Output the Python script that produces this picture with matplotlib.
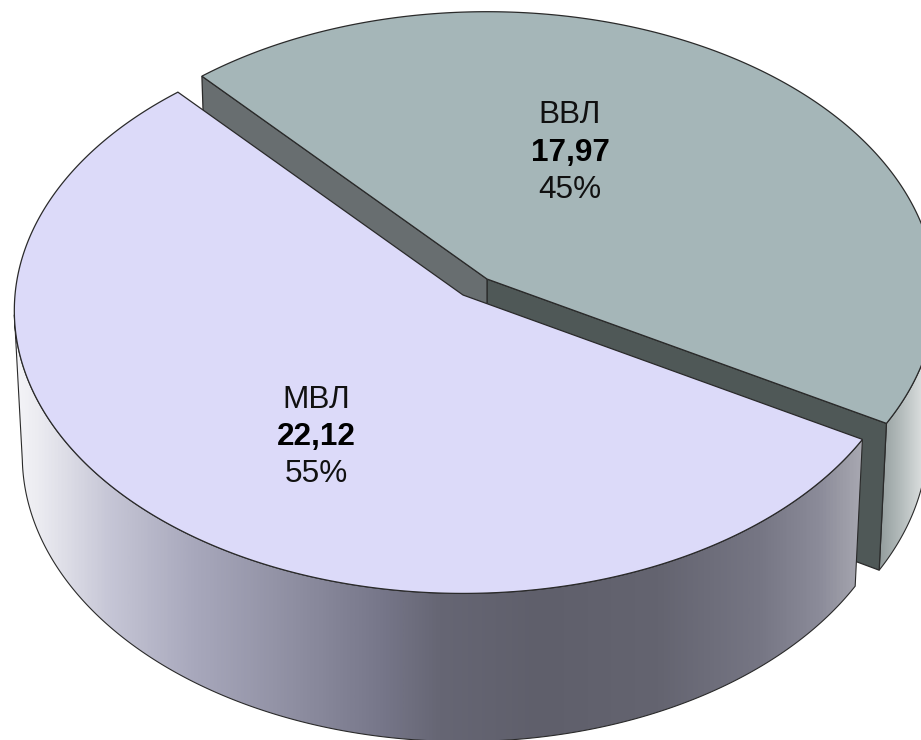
import numpy as np
import matplotlib
matplotlib.use('Agg')
import matplotlib.pyplot as plt
from matplotlib.colors import LinearSegmentedColormap
from matplotlib.patches import Polygon

plt.rcParams['font.family'] = ['Liberation Sans', 'DejaVu Sans']

# data
labels = ['МВЛ', 'ВВЛ']
values = [22.12, 17.97]
percents = ['55%', '45%']

# pie geometry in pixels (perspective view of a thick disk)
CX, CY = 463, 295
RX, RY = 448, 282
K = 0.055      # far side gets smaller
M = 0.018      # bottom of the disk gets smaller
DEPTH = 148
START = 131.5  # where the first slice begins, degrees
OFFSET = [(0, 0), (24, -16)]  # second slice is pulled out

TOP_COLORS = ['#dcdaf9', '#a5b6b8']
EDGE = '#2a2a2a'


def project(theta, r=1.0, z=0.0, off=(0, 0)):
    t = np.radians(theta)
    u = r * np.cos(t)
    v = r * np.sin(t)
    w = 1 + K * v + M * z
    return np.column_stack([CX + off[0] + RX * u / w,
                            CY + off[1] + (DEPTH * z - RY * v) / w])


def sector(a1, a2, off):
    arc = project(np.linspace(a1, a2, 300), off=off)
    apex = project(np.array([0.0]), r=0.0, off=off)
    return np.vstack([apex, arc])


def wall_outer(a1, a2, off):
    th = np.linspace(a1, a2, 300)
    return np.vstack([project(th, off=off), project(th[::-1], z=1.0, off=off)])


def wall_inner(theta, off):
    # flat cut face running from the centre to the rim
    c0 = project(np.array([0.0]), r=0.0, off=off)
    c1 = project(np.array([0.0]), r=0.0, z=1.0, off=off)
    e0 = project(np.array([theta]), off=off)
    e1 = project(np.array([theta]), z=1.0, off=off)
    return np.vstack([c0, e0, e1, c1])


def gradient_patch(ax, pts, stops, x0, x1):
    # horizontal shading clipped to the wall shape
    cmap = LinearSegmentedColormap.from_list('wall', stops)
    patch = Polygon(pts, closed=True, fc='none', ec=EDGE, lw=0.8, zorder=ax.zo + 1)
    ax.add_patch(patch)
    im = ax.imshow(np.linspace(0, 1, 512)[None, :], cmap=cmap, aspect='auto',
                   extent=[x0, x1, 740, 0], zorder=ax.zo, interpolation='bilinear')
    im.set_clip_path(patch)
    ax.zo += 2


fig = plt.figure(figsize=(9.21, 7.40), dpi=100)
ax = fig.add_axes([0, 0, 1, 1])
ax.zo = 1

spans = np.array(values) / np.sum(values) * 360
a_mvl = (START, START + spans[0])
a_vvl = (START + spans[0], START + 360)

mvl_stops = [(0.0, '#f4f4f8'), (0.03, '#eaeaf0'), (0.11, '#c6c6d6'), (0.21, '#a8a8bc'),
             (0.34, '#8c8c9f'), (0.43, '#77778a'), (0.50, '#666674'), (0.62, '#5f5f6b'),
             (0.76, '#646470'), (0.88, '#767684'), (0.95, '#8b8b99'), (1.0, '#a8a8b1')]
vvl_stops = [(0.0, '#8f9999'), (0.5, '#b4bcbc'), (1.0, '#dfe2e2')]

# ВВЛ goes first, the other slice covers part of it
off = OFFSET[1]
gradient_patch(ax, wall_outer(a_vvl[0], a_vvl[0] + 35, off), vvl_stops, 877, 925)
ax.add_patch(Polygon(wall_inner(a_vvl[0], off), closed=True, fc='#4f5857', ec=EDGE, lw=0.9,
                     zorder=ax.zo))
ax.add_patch(Polygon(wall_inner(a_vvl[1], off), closed=True, fc='#686e70', ec=EDGE, lw=0.9,
                     zorder=ax.zo))
ax.zo += 1
ax.add_patch(Polygon(sector(a_vvl[0], a_vvl[1], off), closed=True, fc=TOP_COLORS[1], ec=EDGE,
                     lw=0.9, zorder=ax.zo))
ax.zo += 1

# МВЛ
off = OFFSET[0]
gradient_patch(ax, wall_outer(184, a_mvl[1], off), mvl_stops, 15, 862)
ax.add_patch(Polygon(sector(a_mvl[0], a_mvl[1], off), closed=True, fc=TOP_COLORS[0], ec=EDGE,
                     lw=0.9, zorder=ax.zo))
ax.zo += 1

# labels
label_xy = [(316, 437.5), (570, 153)]
for name, val, pct, (x, y) in zip(labels, values, percents, label_xy):
    ax.text(x, y - 38, name, fontsize=22.7, ha='center', va='center', color='#111111', zorder=ax.zo)
    ax.text(x, y, f'{val:.2f}'.replace('.', ','), fontsize=22.7, fontweight='bold', ha='center',
            va='center', color='black', zorder=ax.zo)
    ax.text(x, y + 37, pct, fontsize=22.7, ha='center', va='center', color='#111111', zorder=ax.zo)

ax.set_xlim(0, 921)
ax.set_ylim(740, 0)
ax.axis('off')
fig.savefig('out.png', dpi=100, facecolor='white')
